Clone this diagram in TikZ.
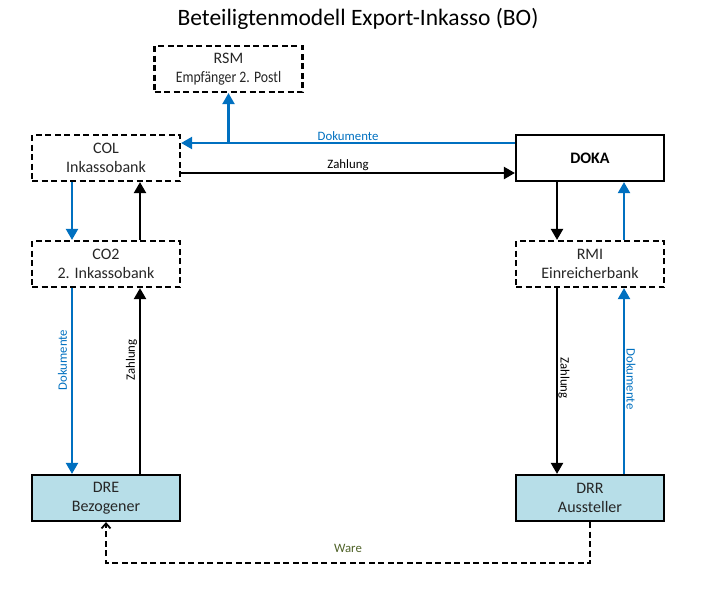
\documentclass[tikz,border=0pt]{standalone}
\usepackage{fontspec}
\setmainfont{Carlito}
\usetikzlibrary{arrows.meta,calc}
\definecolor{docblue}{HTML}{0070C0}
\definecolor{warecol}{HTML}{4F6228}
\definecolor{partyfill}{HTML}{B7DEE8}
\definecolor{txt}{HTML}{262626}
\tikzset{
  box/.style={draw=black, line width=2.2pt, minimum width=148pt, minimum height=46pt,
    inner sep=0pt, align=center, text=txt, font=\fontsize{16}{18.5}\selectfont},
  dbox/.style={box, dash pattern=on 6pt off 3.5pt},
  sbox/.style={box},
  pbox/.style={box, fill=partyfill},
  tip/.style={-{Triangle[length=11pt,width=12pt]}},
  barr/.style={tip, draw=docblue, line width=2.2pt},
  karr/.style={tip, draw=black, line width=2.2pt},
  ware/.style={draw=black, line width=2.2pt, dash pattern=on 6pt off 3.5pt,
    -{Straight Barb[length=5pt,width=9pt,line width=1.8pt]}},
  lbl/.style={font=\fontsize{12.8}{14}\selectfont, inner sep=1pt},
}
\begin{document}
\begin{tikzpicture}[x=1pt,y=-1pt]
\useasboundingbox (0,0) rectangle (717,592);
\node[font=\fontsize{23.5}{26}\selectfont] (title) at (358,19) {Beteiligtenmodell Export-Inkasso (BO)};
\node[dbox] (RSM) at (228.5,69) {RSM\\\scalebox{0.86}[1]{Empfänger 2. Postl}};
\node[dbox] (COL) at (106,158) {COL\\Inkassobank};
\node[sbox, font=\fontsize{16}{18.5}\selectfont\bfseries, text=black] (DOKA) at (590,158) {DOKA};
\node[dbox] (CO2) at (106,264) {CO2\\2. Inkassobank};
\node[dbox] (RMI) at (590,264) {RMI\\Einreicherbank};
\node[pbox] (DRE) at (106,498) {DRE\\Bezogener};
\node[pbox] (DRR) at (590,498) {DRR\\Aussteller};

% top horizontal
\draw[barr] ([yshift=15pt]DOKA.west) -- node[lbl, above, text=docblue, pos=0.5] {Dokumente} ([yshift=15pt]COL.east);
\coordinate (br) at ([yshift=15pt]COL.east -| RSM.south);
\draw[barr] (br) -- (RSM.south);
\draw[karr] ([yshift=-15pt]COL.east) -- node[lbl, above, pos=0.5] {Zahlung} ([yshift=-15pt]DOKA.west);

% left column
\draw[barr] ([xshift=-34pt]COL.south) -- ([xshift=-34pt]CO2.north);
\draw[karr] ([xshift=34pt]CO2.north) -- ([xshift=34pt]COL.south);
\draw[barr] ([xshift=-34pt]CO2.south) -- ([xshift=-34pt]DRE.north);
\draw[karr] ([xshift=34pt]DRE.north) -- ([xshift=34pt]CO2.south);
\node[lbl, rotate=90, text=docblue] (ld) at (62.5,360) {Dokumente};
\node[lbl, rotate=90] (lz) at (131.5,360) {Zahlung};

% right column
\draw[karr] ([xshift=-33pt]DOKA.south) -- ([xshift=-33pt]RMI.north);
\draw[barr] ([xshift=34pt]RMI.north) -- ([xshift=34pt]DOKA.south);
\draw[karr] ([xshift=-33pt]RMI.south) -- ([xshift=-33pt]DRR.north);
\draw[barr] ([xshift=34pt]DRR.north) -- ([xshift=34pt]RMI.south);
\node[lbl, rotate=-90] (rz) at (564,378) {Zahlung};
\node[lbl, rotate=-90, text=docblue] (rd) at (631,379) {Dokumente};

% Ware
\draw[ware] (DRR.south) -- ++(0,41) coordinate (wr) -| (DRE.south);
\node[lbl, text=warecol] (wl) at (348,548) {Ware};
\end{tikzpicture}
\end{document}
